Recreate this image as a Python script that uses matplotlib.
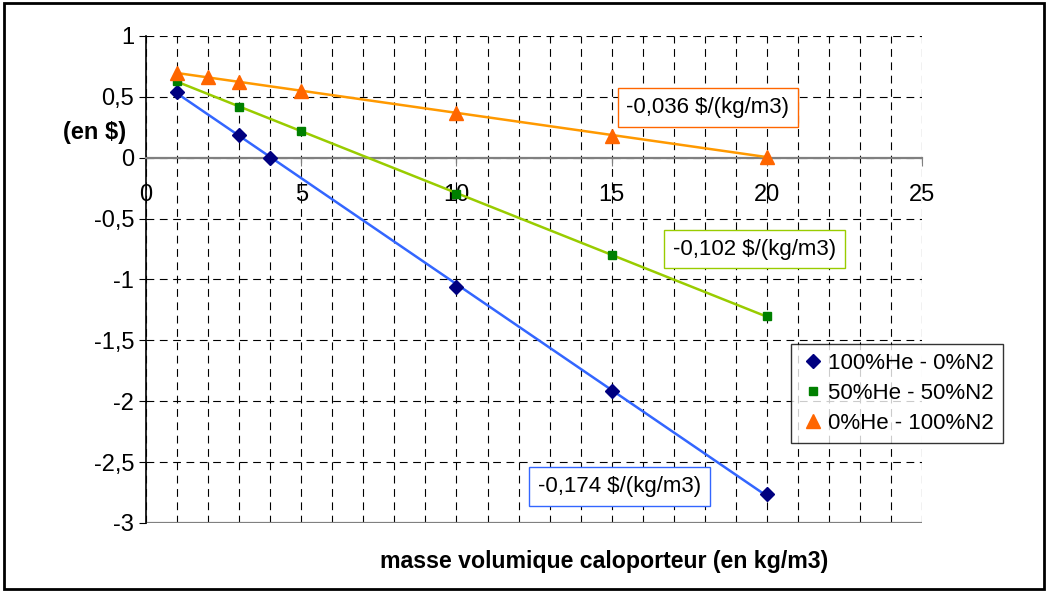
import numpy as np
import matplotlib
matplotlib.use("Agg")
from matplotlib import pyplot as plt
from matplotlib.patches import Rectangle
from matplotlib.ticker import MultipleLocator, FuncFormatter

plt.rcParams["font.family"] = ["Liberation Sans", "DejaVu Sans"]

# data
x_he100 = [1, 3, 4, 10, 15, 20]
y_he100 = [0.54, 0.19, 0.0, -1.06, -1.92, -2.76]
x_he50 = [1, 3, 5, 10, 15, 20]
y_he50 = [0.63, 0.42, 0.22, -0.30, -0.80, -1.30]
x_he0 = [1, 2, 3, 5, 10, 15, 20]
y_he0 = [0.70, 0.66, 0.62, 0.55, 0.37, 0.18, 0.01]
labels = ["100%He - 0%N2", "50%He - 50%N2", "0%He - 100%N2"]
slope_texts = ["-0,174 $/(kg/m3)", "-0,102 $/(kg/m3)", "-0,036 $/(kg/m3)"]

fig = plt.figure(figsize=(10.48, 5.92), dpi=100)
ax = fig.add_axes([0.1393, 0.1166, 0.7407, 0.8226])

series = [
    (x_he100, y_he100, "D", "#000080", "#3366FF", 7),
    (x_he50, y_he50, "s", "#008000", "#99CC00", 6),
    (x_he0, y_he0, "^", "#FF6600", "#FF9900", 10),
]

for (xs, ys, m, mc, lc, ms), lab in zip(series, labels):
    xs = np.array(xs)
    ys = np.array(ys)
    p = np.polyfit(xs, ys, 1)
    xx = np.array([xs.min(), xs.max()])
    ax.plot(xx, np.polyval(p, xx), color=lc, lw=1.8, zorder=3)
    ax.plot(xs, ys, m, color=mc, ms=ms, mec=mc, lw=0, label=lab, zorder=4)

ax.set_xlim(0, 25)
ax.set_ylim(-3, 1)
ax.xaxis.set_major_locator(MultipleLocator(5))
ax.xaxis.set_minor_locator(MultipleLocator(1))
ax.yaxis.set_major_locator(MultipleLocator(0.5))
fmt = FuncFormatter(lambda v, pos: ("%g" % v).replace(".", ","))
ax.xaxis.set_major_formatter(fmt)
ax.yaxis.set_major_formatter(fmt)

ax.grid(True, which="both", color="black", linestyle=(0, (7, 5)), lw=0.8)
ax.grid(False, which="minor", axis="y")
ax.set_axisbelow(True)

for s in ["top", "right"]:
    ax.spines[s].set_visible(False)
ax.spines["bottom"].set_position(("data", 0))
ax.spines["bottom"].set_color("#808080")
ax.spines["bottom"].set_linewidth(1.6)
ax.spines["left"].set_color("black")
ax.spines["left"].set_linewidth(1.2)
ax.axhline(-3, color="#808080", lw=1.6, zorder=2)

ax.tick_params(axis="x", which="major", direction="out", length=6, pad=13,
               labelsize=17, color="#808080")
ax.tick_params(axis="x", which="minor", length=0)
ax.tick_params(axis="y", direction="out", length=5, labelsize=17, pad=3.5)

ax.text(18.1, 0.41, slope_texts[2], ha="center", va="center", fontsize=16,
        bbox=dict(boxstyle="square,pad=0.4", fc="white", ec="#FF6600", lw=1))
ax.text(19.6, -0.75, slope_texts[1], ha="center", va="center", fontsize=16,
        bbox=dict(boxstyle="square,pad=0.4", fc="white", ec="#99CC00", lw=1))
ax.text(15.25, -2.7, slope_texts[0], ha="center", va="center", fontsize=16,
        bbox=dict(boxstyle="square,pad=0.4", fc="white", ec="#3366FF", lw=1))

leg = ax.legend(loc="upper left", bbox_to_anchor=(0.816, 0.39), fontsize=16,
                frameon=True, fancybox=False, handletextpad=0.1,
                handlelength=1.2, borderpad=0.4, labelspacing=0.4)
leg.get_frame().set_edgecolor("black")
leg.get_frame().set_linewidth(1)
leg.set_zorder(5)

fig.text(0.12, 0.777, "(en $)", ha="right", va="center", fontsize=17,
         fontweight="bold")
fig.text(0.576, 0.051, "masse volumique caloporteur (en kg/m3)", ha="center",
         va="center", fontsize=16.7, fontweight="bold")

fig.add_artist(Rectangle((0.004, 0.005), 0.992, 0.99, transform=fig.transFigure,
                         fill=False, ec="black", lw=2))

fig.savefig("out.png", dpi=100)
